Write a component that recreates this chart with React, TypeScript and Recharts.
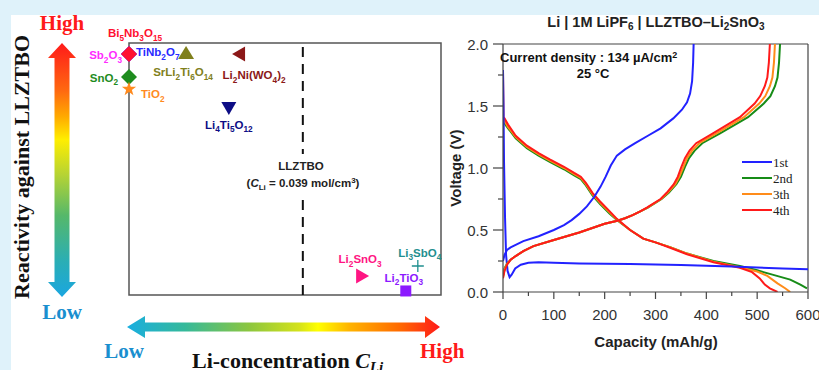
import React from "react";
import {
  ScatterChart,
  Scatter,
  LineChart,
  Line,
  XAxis,
  YAxis,
  ReferenceArea,
  ReferenceLine,
  Legend,
} from "recharts";

const SANS = "'Liberation Sans', Arial, sans-serif";
const SERIF = "'Liberation Serif', 'Times New Roman', serif";

// left panel: Li concentration (mol/cm3) vs. reactivity against LLZTBO
const compounds = [
  "Sb2O3",
  "TiNb2O7",
  "Bi5Nb3O15",
  "SrLi2Ti6O14",
  "Li2Ni(WO4)2",
  "SnO2",
  "TiO2",
  "Li4Ti5O12",
  "Li2SnO3",
  "Li2TiO3",
  "Li3SbO4",
];
const liConc = [0, 0, 0, 0.0128, 0.0247, 0, 0, 0.0224, 0.0523, 0.0621, 0.0648];
const reactivity = [9.56, 9.56, 9.56, 9.6, 9.56, 8.65, 8.17, 7.42, 0.75, 0.16, 1.15];
const llztboConc = 0.039;

// right panel: charge / discharge curves (capacity mAh/g, voltage V)
const dis1Cap = [0, 1, 2, 4, 6, 9, 13, 17, 24, 35, 50, 70, 100, 150, 200, 250, 300, 350, 400, 450, 500, 550, 600];
const dis1V = [1.79, 1.5, 1.05, 0.6, 0.3, 0.17, 0.12, 0.14, 0.19, 0.22, 0.235, 0.24, 0.236, 0.23, 0.227, 0.225, 0.222, 0.218, 0.212, 0.205, 0.198, 0.19, 0.183];
const chg1Cap = [0, 3, 8, 15, 40, 70, 100, 120, 135, 150, 165, 180, 192, 202, 212, 224, 240, 260, 285, 310, 335, 352, 362, 368, 372, 374, 375];
const chg1V = [0.25, 0.3, 0.34, 0.36, 0.41, 0.45, 0.5, 0.54, 0.58, 0.63, 0.69, 0.77, 0.85, 0.93, 1.02, 1.1, 1.15, 1.2, 1.26, 1.32, 1.4, 1.47, 1.53, 1.6, 1.7, 1.85, 2.0];

const dis2Cap = [0, 3, 10, 25, 47, 70, 92, 120, 140, 153, 163, 176, 191, 210, 224, 250, 276, 300, 330, 362, 414, 466, 500, 530, 565, 585, 598];
const dis2V = [1.37, 1.36, 1.32, 1.24, 1.16, 1.1, 1.05, 0.99, 0.94, 0.91, 0.86, 0.78, 0.71, 0.63, 0.58, 0.5, 0.43, 0.4, 0.36, 0.31, 0.25, 0.21, 0.175, 0.14, 0.1, 0.06, 0.03];
const chg2Cap = [0, 3, 8, 15, 25, 40, 60, 100, 150, 200, 225, 240, 255, 270, 285, 312, 326, 341, 350, 358, 366, 377, 392, 427, 482, 513, 526, 535, 540, 543, 545];
const chg2V = [0.13, 0.19, 0.23, 0.26, 0.29, 0.33, 0.37, 0.42, 0.48, 0.55, 0.575, 0.595, 0.62, 0.65, 0.68, 0.75, 0.8, 0.87, 0.93, 1.01, 1.08, 1.14, 1.2, 1.28, 1.41, 1.52, 1.58, 1.66, 1.73, 1.85, 2.0];

const dis3Cap = [0, 3, 10, 25, 47, 70, 92, 120, 140, 153, 163, 176, 191, 210, 224, 250, 276, 300, 330, 362, 414, 466, 500, 520, 540, 555, 565];
const dis3V = [1.39, 1.38, 1.33, 1.25, 1.17, 1.11, 1.06, 1.0, 0.95, 0.92, 0.87, 0.79, 0.72, 0.64, 0.585, 0.5, 0.43, 0.4, 0.36, 0.31, 0.245, 0.2, 0.165, 0.13, 0.07, 0.03, 0.0];
const chg3Cap = [0, 3, 8, 15, 25, 40, 60, 100, 150, 200, 225, 240, 255, 270, 284, 311, 324, 339, 347, 355, 362, 372, 386, 420, 474, 504, 516, 525, 530, 533, 535];
const chg3V = [0.12, 0.18, 0.225, 0.26, 0.29, 0.33, 0.37, 0.42, 0.48, 0.55, 0.575, 0.595, 0.62, 0.65, 0.68, 0.75, 0.8, 0.87, 0.93, 1.01, 1.08, 1.14, 1.2, 1.28, 1.41, 1.52, 1.58, 1.66, 1.73, 1.85, 2.0];

const dis4Cap = [0, 1, 3, 10, 25, 47, 70, 92, 120, 140, 153, 163, 176, 191, 210, 224, 250, 276, 300, 330, 362, 414, 466, 490, 505, 515, 525, 540];
const dis4V = [1.78, 1.41, 1.4, 1.35, 1.26, 1.18, 1.12, 1.07, 1.01, 0.96, 0.93, 0.88, 0.8, 0.73, 0.65, 0.59, 0.5, 0.43, 0.4, 0.355, 0.305, 0.24, 0.195, 0.16, 0.11, 0.06, 0.03, 0.0];
const chg4Cap = [0, 3, 8, 15, 25, 40, 60, 100, 150, 200, 225, 240, 255, 270, 283, 310, 322, 336, 344, 351, 358, 367, 380, 413, 466, 495, 506, 515, 520, 523, 525];
const chg4V = [0.11, 0.17, 0.22, 0.26, 0.29, 0.33, 0.37, 0.42, 0.48, 0.55, 0.575, 0.595, 0.62, 0.65, 0.68, 0.75, 0.8, 0.87, 0.93, 1.01, 1.08, 1.14, 1.2, 1.28, 1.41, 1.52, 1.58, 1.66, 1.73, 1.85, 2.0];

const cycleNames = ["1st", "2nd", "3th", "4th"];
const voltTicks = [0, 0.25, 0.5, 0.75, 1, 1.25, 1.5, 1.75, 2];
const capTicks = [0, 50, 100, 150, 200, 250, 300, 350, 400, 450, 500, 550, 600];

const zip = (cap: number[], v: number[]) => cap.map((c, i) => ({ c, v: v[i] }));

const cycleColors: Record<string, string> = {
  "1st": "#2222ff",
  "2nd": "#178c17",
  "3th": "#ff8c1a",
  "4th": "#ff1a1a",
};

const curves = [
  { name: "2nd", dis: zip(dis2Cap, dis2V), chg: zip(chg2Cap, chg2V) },
  { name: "3th", dis: zip(dis3Cap, dis3V), chg: zip(chg3Cap, chg3V) },
  { name: "4th", dis: zip(dis4Cap, dis4V), chg: zip(chg4Cap, chg4V) },
  { name: "1st", dis: zip(dis1Cap, dis1V), chg: zip(chg1Cap, chg1V) },
];

// marker look + label placement (relative to marker centre)
const compoundStyle: Record<string, any> = {
  "Sb2O3": { kind: "diamond", color: "#ff2bff", dx: -7, dy: 5, anchor: "end" },
  "TiNb2O7": { kind: "diamond", color: "#2a2aff", dx: 7, dy: 2, anchor: "start" },
  "Bi5Nb3O15": { kind: "diamond", color: "#ff1030", dx: 6, dy: -17, anchor: "middle" },
  "SrLi2Ti6O14": { kind: "up", color: "#80801c", dx: -3, dy: 23, anchor: "middle" },
  "Li2Ni(WO4)2": { kind: "left", color: "#8b1818", dx: 15, dy: 25, anchor: "middle" },
  "SnO2": { kind: "diamond", color: "#1e8c1e", dx: -11, dy: 5, anchor: "end" },
  "TiO2": { kind: "star", color: "#ff8a1e", dx: 12, dy: 9, anchor: "start" },
  "Li4Ti5O12": { kind: "down", color: "#0d0d85", dx: 0, dy: 21, anchor: "middle" },
  "Li2SnO3": { kind: "right", color: "#ff1583", dx: -2, dy: -13, anchor: "middle" },
  "Li2TiO3": { kind: "square", color: "#8c1aff", dx: -2, dy: -9, anchor: "middle" },
  "Li3SbO4": { kind: "plus", color: "#1f8f8f", dx: 2, dy: -9, anchor: "middle" },
};

function Formula({ text, x, y, size, fill, anchor }: any) {
  const parts = text.split(/(\d+)/).filter((s: string) => s.length > 0);
  let low = false;
  const shift = size * 0.3;
  return (
    <text x={x} y={y} textAnchor={anchor} fontFamily={SANS} fontWeight="bold" fontSize={size} fill={fill}>
      {parts.map((p: string, i: number) => {
        const isSub = /^\d+$/.test(p);
        const dy = isSub === low ? 0 : isSub ? shift : -shift;
        low = isSub;
        return (
          <tspan key={i} dy={dy} fontSize={isSub ? size * 0.72 : size}>
            {p}
          </tspan>
        );
      })}
    </text>
  );
}

function Marker(props: any) {
  const { cx, cy, payload } = props;
  const st = compoundStyle[payload.name];
  const c = st.color;
  let shape: React.ReactNode = null;
  if (st.kind === "diamond") {
    shape = <polygon points={`${cx},${cy - 8} ${cx + 8},${cy} ${cx},${cy + 8} ${cx - 8},${cy}`} fill={c} />;
  } else if (st.kind === "up") {
    shape = <polygon points={`${cx},${cy - 7} ${cx + 8},${cy + 6} ${cx - 8},${cy + 6}`} fill={c} />;
  } else if (st.kind === "down") {
    shape = <polygon points={`${cx - 7.5},${cy - 6} ${cx + 7.5},${cy - 6} ${cx},${cy + 7}`} fill={c} />;
  } else if (st.kind === "left") {
    shape = <polygon points={`${cx - 7},${cy} ${cx + 6},${cy - 7.5} ${cx + 6},${cy + 7.5}`} fill={c} />;
  } else if (st.kind === "right") {
    shape = <polygon points={`${cx + 7},${cy} ${cx - 6},${cy - 7.5} ${cx - 6},${cy + 7.5}`} fill={c} />;
  } else if (st.kind === "square") {
    shape = <rect x={cx - 5.5} y={cy - 5.5} width={11} height={11} fill={c} />;
  } else if (st.kind === "plus") {
    shape = (
      <path d={`M${cx - 6},${cy}H${cx + 6}M${cx},${cy - 6}V${cy + 6}`} stroke={c} strokeWidth={1.3} />
    );
  } else if (st.kind === "star") {
    const pts: string[] = [];
    for (let k = 0; k < 10; k++) {
      const r = k % 2 === 0 ? 7.5 : 3;
      const a = -Math.PI / 2 + (k * Math.PI) / 5;
      pts.push(`${cx + r * Math.cos(a)},${cy + r * Math.sin(a)}`);
    }
    shape = <polygon points={pts.join(" ")} fill={c} />;
  }
  return (
    <g>
      {shape}
      <Formula text={payload.name} x={cx + st.dx} y={cy + st.dy} size={11.5} fill={c} anchor={st.anchor} />
    </g>
  );
}

function VoltTick(props: any) {
  const { x, y, payload } = props;
  const major = Math.abs(payload.value * 2 - Math.round(payload.value * 2)) < 1e-6;
  return (
    <g>
      <line x1={x} x2={x - (major ? 10 : 5)} y1={y} y2={y} stroke="#444" strokeWidth={1.2} />
      {major && (
        <text x={x - 15} y={y + 5.5} textAnchor="end" fontFamily={SANS} fontSize={15} fill="#333">
          {payload.value.toFixed(1)}
        </text>
      )}
    </g>
  );
}

function CapTick(props: any) {
  const { x, y, payload } = props;
  const major = payload.value % 100 === 0;
  return (
    <g>
      <line x1={x} x2={x} y1={y} y2={y + (major ? 7 : 4)} stroke="#444" strokeWidth={1.2} />
      {major && (
        <text x={x} y={y + 28} textAnchor="middle" fontFamily={SANS} fontSize={15} fill="#333">
          {payload.value}
        </text>
      )}
    </g>
  );
}

function CycleLegend(props: any) {
  const items = (props.payload || [])
    .filter((p: any) => p.type !== "none" && cycleNames.includes(p.value))
    .sort((a: any, b: any) => cycleNames.indexOf(a.value) - cycleNames.indexOf(b.value));
  return (
    <svg width={70} height={68} style={{ display: "block" }}>
      {items.map((it: any, i: number) => (
        <g key={it.value} transform={`translate(0, ${i * 16})`}>
          <line x1={0} x2={30} y1={8} y2={8} stroke={it.color} strokeWidth={2} />
          <text x={31} y={12.5} fontFamily={SERIF} fontSize={13} fill="#222">
            {it.value}
          </text>
        </g>
      ))}
    </svg>
  );
}

export default function App() {
  const points = compounds.map((name, i) => ({ name, c: liConc[i], r: reactivity[i] }));

  return (
    <div
      style={{
        position: "absolute",
        left: 0,
        top: 0,
        width: 819,
        height: 370,
        overflow: "hidden",
        background: "#dff2fa",
      }}
    >
      <div style={{ position: "absolute", left: 11, top: 15, right: 0, bottom: 0, background: "#fff" }} />

      {/* left panel */}
      <div style={{ position: "absolute", left: 0, top: 0 }}>
        <ScatterChart width={460} height={370} margin={{ top: 43, right: 19, bottom: 75, left: 129 }}>
          <XAxis type="number" dataKey="c" domain={[0, 0.07]} hide />
          <YAxis type="number" dataKey="r" domain={[0, 10]} hide />
          <ReferenceArea x1={0} x2={0.07} y1={0} y2={10} fill="none" stroke="#555" strokeWidth={1.5} />
          <ReferenceLine x={llztboConc} stroke="#111" strokeWidth={2} strokeDasharray="10 7" />
          {points.map((p) => (
            <Scatter
              key={p.name}
              name={p.name}
              data={[p]}
              isAnimationActive={false}
              shape={(props: any) => <Marker {...props} />}
            />
          ))}
        </ScatterChart>
      </div>

      {/* right panel */}
      <div style={{ position: "absolute", left: 440, top: 0 }}>
        <LineChart width={379} height={370} margin={{ top: 44, right: 11, bottom: 0, left: 0 }}>
          <XAxis
            type="number"
            dataKey="c"
            domain={[0, 600]}
            ticks={capTicks}
            interval={0}
            height={78}
            tickSize={0}
            tickMargin={0}
            tickLine={false}
            tick={(props: any) => <CapTick {...props} />}
            stroke="#444"
            strokeWidth={1.2}
            allowDataOverflow
          />
          <YAxis
            type="number"
            dataKey="v"
            domain={[0, 2]}
            ticks={voltTicks}
            interval={0}
            width={63}
            tickSize={0}
            tickMargin={0}
            tickLine={false}
            tick={(props: any) => <VoltTick {...props} />}
            stroke="#444"
            strokeWidth={1.2}
            allowDataOverflow
          />
          <ReferenceLine y={2} stroke="#444" strokeWidth={1.2} />
          <ReferenceLine x={600} stroke="#444" strokeWidth={1.2} />
          {curves.map((cv) => (
            <Line
              key={cv.name + "-dis"}
              name={cv.name}
              data={cv.dis}
              dataKey="v"
              type="linear"
              stroke={cycleColors[cv.name]}
              strokeWidth={2}
              dot={false}
              isAnimationActive={false}
            />
          ))}
          {curves.map((cv) => (
            <Line
              key={cv.name + "-chg"}
              name={cv.name + " charge"}
              data={cv.chg}
              dataKey="v"
              type="linear"
              stroke={cycleColors[cv.name]}
              strokeWidth={2}
              dot={false}
              legendType="none"
              isAnimationActive={false}
            />
          ))}
          <Legend
            layout="vertical"
            align="center"
            verticalAlign="middle"
            content={(props: any) => <CycleLegend {...props} />}
            wrapperStyle={{ left: 302, top: 154, width: 70 }}
          />
        </LineChart>
      </div>

      {/* decorations and free text */}
      <svg
        width={819}
        height={370}
        style={{ position: "absolute", left: 0, top: 0, pointerEvents: "none" }}
      >
        <defs>
          <linearGradient id="vgrad" x1="0" y1="0" x2="0" y2="1">
            <stop offset="0" stopColor="#ff1a1a" />
            <stop offset="0.19" stopColor="#ff6a10" />
            <stop offset="0.29" stopColor="#ffaa00" />
            <stop offset="0.38" stopColor="#ffee00" />
            <stop offset="0.52" stopColor="#b5d334" />
            <stop offset="0.68" stopColor="#55b86a" />
            <stop offset="0.86" stopColor="#2aaeb5" />
            <stop offset="1" stopColor="#1aa6e0" />
          </linearGradient>
          <linearGradient id="hgrad" x1="0" y1="0" x2="1" y2="0">
            <stop offset="0" stopColor="#19aee0" />
            <stop offset="0.185" stopColor="#35b99a" />
            <stop offset="0.39" stopColor="#8cc63f" />
            <stop offset="0.55" stopColor="#d4e21b" />
            <stop offset="0.61" stopColor="#ffff00" />
            <stop offset="0.71" stopColor="#ffb400" />
            <stop offset="0.87" stopColor="#ff6a00" />
            <stop offset="1" stopColor="#ff1a1a" />
          </linearGradient>
        </defs>

        <polygon
          points="62,43 76,58 69.5,58 69.5,282 76,282 62,297 48,282 54.5,282 54.5,58 48,58"
          fill="url(#vgrad)"
        />
        <polygon
          points="127,327 145,316 145,322.5 425,322.5 425,316 440,327 425,338 425,331.5 145,331.5 145,338"
          fill="url(#hgrad)"
        />

        <text x={62} y={30} textAnchor="middle" fontFamily={SERIF} fontWeight="bold" fontSize={21} fill="#ff1a1a">
          High
        </text>
        <text x={62} y={319} textAnchor="middle" fontFamily={SERIF} fontWeight="bold" fontSize={21} fill="#1a8fcf">
          Low
        </text>
        <text
          x={29}
          y={167}
          transform="rotate(-90 29 167)"
          textAnchor="middle"
          fontFamily={SERIF}
          fontWeight="bold"
          fontSize={22}
          fill="#111"
        >
          Reactivity against LLZTBO
        </text>
        <text x={124} y={358} textAnchor="middle" fontFamily={SERIF} fontWeight="bold" fontSize={21} fill="#1a8fcf">
          Low
        </text>
        <text x={420} y={358} fontFamily={SERIF} fontWeight="bold" fontSize={21} fill="#ff1a1a">
          High
        </text>
        <text x={192} y={368} fontFamily={SERIF} fontWeight="bold" fontSize={22} fill="#111">
          Li-concentration{" "}
          <tspan fontStyle="italic">C</tspan>
          <tspan fontStyle="italic" fontSize={15} dy={4}>
            Li
          </tspan>
        </text>

        <rect x={276} y={154} width={54} height={40} fill="#fff" />
        <text x={301} y={170} textAnchor="middle" fontFamily={SANS} fontWeight="bold" fontSize={11.5} fill="#222">
          LLZTBO
        </text>
        <text x={303} y={187} textAnchor="middle" fontFamily={SANS} fontWeight="bold" fontSize={11.5} fill="#222">
          (<tspan fontStyle="italic">C</tspan>
          <tspan fontSize={8} dy={3}>Li</tspan>
          <tspan dy={-3}> = 0.039 mol/cm</tspan>
          <tspan fontSize={8} dy={-4}>3</tspan>
          <tspan dy={4}>)</tspan>
        </text>

        <text x={656} y={27} textAnchor="middle" fontFamily={SANS} fontWeight="bold" fontSize={14.5} fill="#222">
          Li | 1M LiPF<tspan fontSize={10} dy={3}>6</tspan>
          <tspan dy={-3}> | LLZTBO–Li</tspan>
          <tspan fontSize={10} dy={3}>2</tspan>
          <tspan dy={-3}>SnO</tspan>
          <tspan fontSize={10} dy={3}>3</tspan>
        </text>
        <text x={500} y={62} fontFamily={SANS} fontWeight="bold" fontSize={13} fill="#111">
          Current density : 134 µA/cm<tspan fontSize={9} dy={-4}>2</tspan>
        </text>
        <text x={593} y={78} textAnchor="middle" fontFamily={SANS} fontWeight="bold" fontSize={13} fill="#111">
          25 °C
        </text>
        <text
          x={461}
          y={168}
          transform="rotate(-90 461 168)"
          textAnchor="middle"
          fontFamily={SANS}
          fontWeight="bold"
          fontSize={15}
          fill="#222"
        >
          Voltage (V)
        </text>
        <text x={656} y={347} textAnchor="middle" fontFamily={SANS} fontWeight="bold" fontSize={15} fill="#222">
          Capacity (mAh/g)
        </text>
      </svg>
    </div>
  );
}
